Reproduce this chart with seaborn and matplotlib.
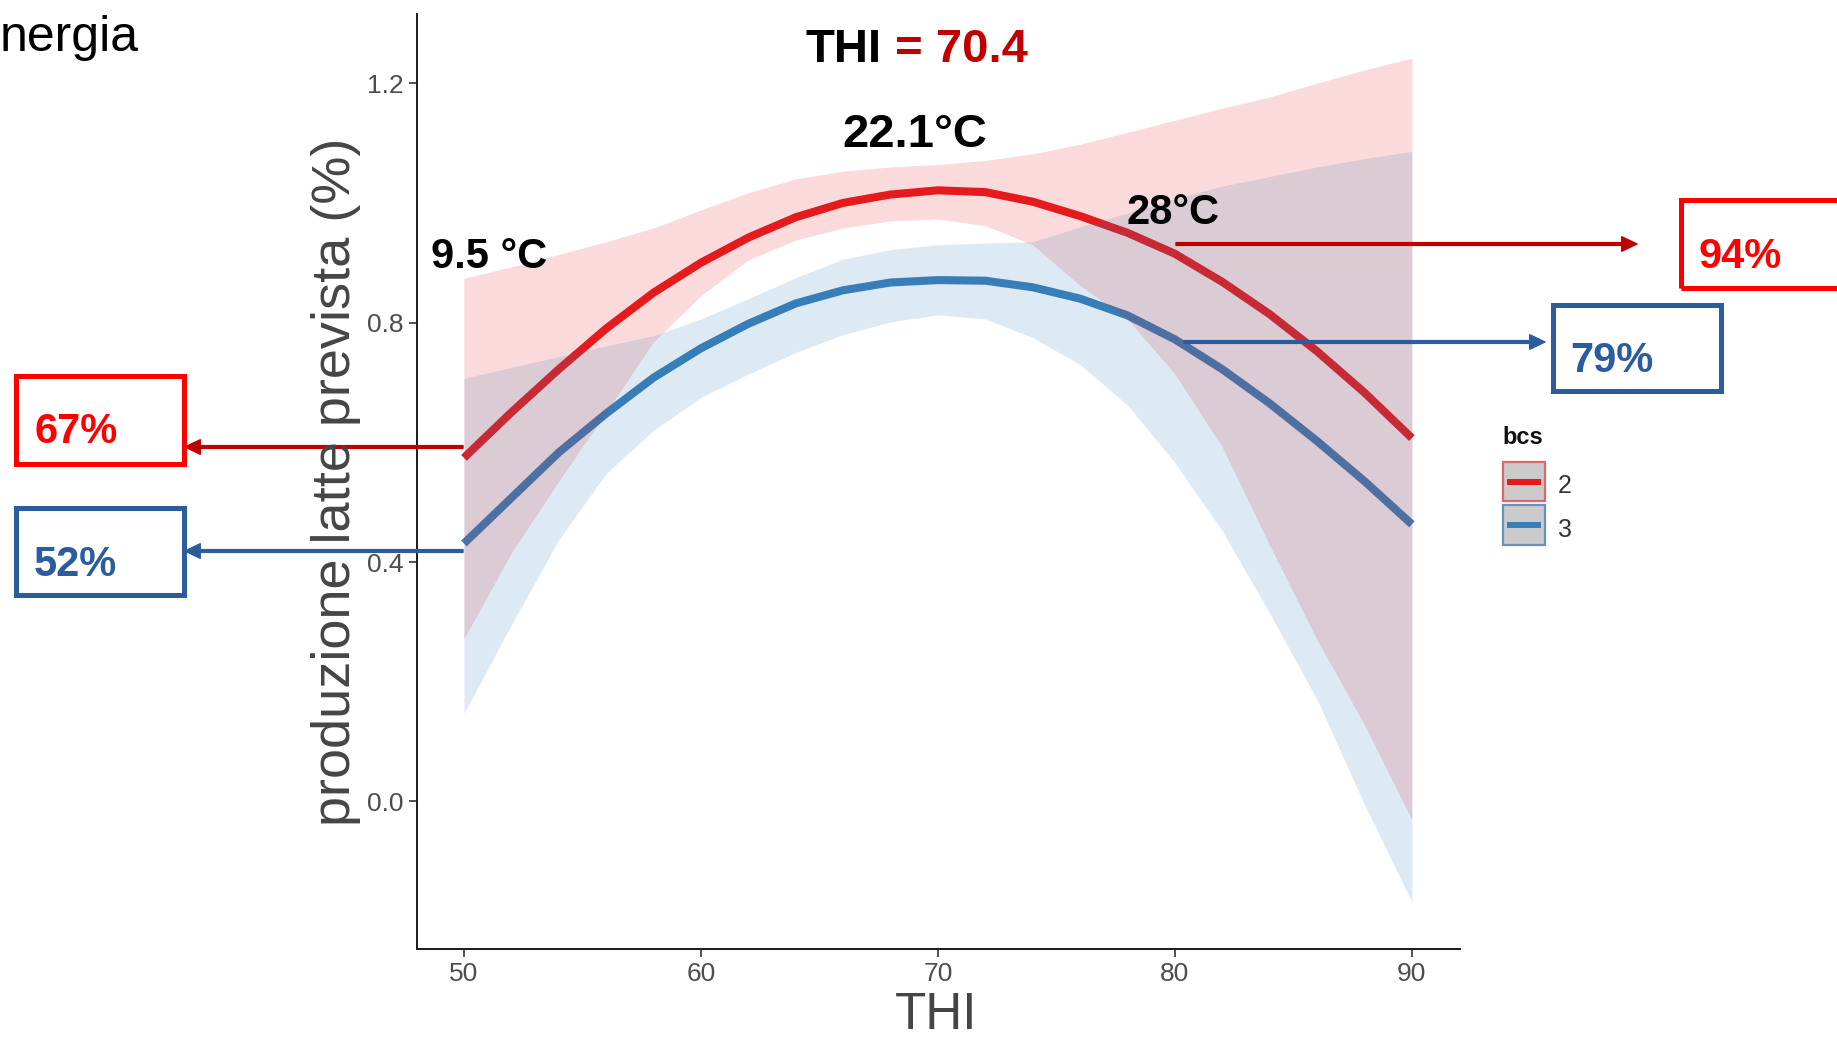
import matplotlib
matplotlib.use("Agg")
import matplotlib.pyplot as plt
import seaborn as sns
import pandas as pd
from matplotlib.patches import Rectangle
from matplotlib.lines import Line2D

# ---------------- data ----------------
thi = [50, 52, 54, 56, 58, 60, 62, 64, 66, 68, 70, 72, 74, 76, 78, 80, 82, 84, 86, 88, 90]

bcs2_fit = [0.574, 0.650, 0.722, 0.790, 0.850, 0.900, 0.942, 0.976, 1.000, 1.014, 1.021,
            1.018, 1.002, 0.978, 0.950, 0.915, 0.868, 0.814, 0.752, 0.683, 0.607]
bcs2_lo = [0.272, 0.415, 0.535, 0.650, 0.768, 0.845, 0.905, 0.938, 0.958, 0.970, 0.973,
           0.962, 0.930, 0.862, 0.806, 0.714, 0.592, 0.428, 0.270, 0.128, -0.031]
bcs2_hi = [0.874, 0.893, 0.914, 0.935, 0.958, 0.988, 1.017, 1.040, 1.053, 1.060, 1.064,
           1.071, 1.082, 1.098, 1.118, 1.138, 1.158, 1.177, 1.200, 1.222, 1.242]

bcs3_fit = [0.431, 0.507, 0.583, 0.648, 0.708, 0.757, 0.798, 0.832, 0.854, 0.867, 0.871,
            0.870, 0.859, 0.840, 0.812, 0.772, 0.722, 0.665, 0.602, 0.535, 0.463]
bcs3_lo = [0.147, 0.295, 0.437, 0.548, 0.620, 0.675, 0.714, 0.750, 0.780, 0.801, 0.813,
           0.806, 0.775, 0.730, 0.662, 0.566, 0.452, 0.314, 0.170, -0.005, -0.168]
bcs3_hi = [0.707, 0.725, 0.743, 0.761, 0.778, 0.806, 0.840, 0.875, 0.906, 0.922, 0.930,
           0.933, 0.935, 0.960, 0.983, 1.007, 1.028, 1.044, 1.060, 1.074, 1.086]

bcs_levels = ["2", "3"]
x_ticks = [50, 60, 70, 80, 90]
y_ticks = [0.0, 0.4, 0.8, 1.2]
y_tick_labels = ["0.0", "0.4", "0.8", "1.2"]

# ---------------- style ----------------
sns.set_style("ticks")
plt.rcParams["font.family"] = ["Liberation Sans", "DejaVu Sans"]

RED = "#E41A1C"
BLUE = "#377EB8"
DARK_RED = "#C00000"
BOX_RED = "#FF0000"
BOX_BLUE = "#2A5C9E"

W, H = 1837, 1041
fig = plt.figure(figsize=(W / 100, H / 100), dpi=100)
fig.patch.set_facecolor("white")


def fx(x):
    return x / W


def fy(y):
    return 1 - y / H


ax = fig.add_axes([fx(417), fy(949), (1460 - 417) / W, (949 - 14) / H])
ax.set_facecolor("white")

n = len(thi)
df = pd.DataFrame({
    "THI": thi + thi,
    "pred": bcs2_fit + bcs3_fit,
    "bcs": [bcs_levels[0]] * n + [bcs_levels[1]] * n,
})

sns.lineplot(data=df, x="THI", y="pred", hue="bcs",
             palette={bcs_levels[0]: RED, bcs_levels[1]: BLUE},
             estimator=None, lw=5.8, legend=False, ax=ax, zorder=2,
             solid_capstyle="butt", solid_joinstyle="round")

ax.fill_between(thi, bcs2_lo, bcs2_hi, color=RED, alpha=0.16, lw=0, zorder=3)
ax.fill_between(thi, bcs3_lo, bcs3_hi, color=BLUE, alpha=0.16, lw=0, zorder=3)

ax.set_xlim(48.02, 92.03)
ax.set_ylim(-0.2466, 1.3156)
ax.set_xticks(x_ticks)
ax.set_yticks(y_ticks)
ax.set_yticklabels(y_tick_labels)
ax.set_xlabel("")
ax.set_ylabel("")

for s in ["top", "right"]:
    ax.spines[s].set_visible(False)
for s in ["left", "bottom"]:
    ax.spines[s].set_color("#1a1a1a")
    ax.spines[s].set_linewidth(1.4)

ax.tick_params(axis="both", direction="out", length=5.5, width=1.2, color="#333333",
               labelsize=19, labelcolor="#4D4D4D")
ax.tick_params(axis="y", pad=4)
ax.tick_params(axis="x", pad=3.6)

# axis titles
fig.text(fx(350), fy(482), "produzione latte prevista (%)", rotation=90,
         rotation_mode="anchor", ha="center", va="baseline",
         fontsize=39, color="#454545")
fig.text(fx(936), fy(1040), "THI", ha="center", va="bottom",
         fontsize=37, color="#454545")

# ---------------- annotations ----------------
fig.text(fx(0), fy(51), "nergia", ha="left", va="baseline", fontsize=36, color="black")

fig.text(fx(882), fy(62), "THI", ha="right", va="baseline", fontsize=34,
         fontweight="bold", color="black")
fig.text(fx(895), fy(62), "= 70.4", ha="left", va="baseline", fontsize=34,
         fontweight="bold", color=DARK_RED)

fig.text(fx(915), fy(147), "22.1°C", ha="center", va="baseline", fontsize=34,
         fontweight="bold", color="black")
fig.text(fx(431), fy(268), "9.5 °C", ha="left", va="baseline", fontsize=30,
         fontweight="bold", color="black")
fig.text(fx(1127), fy(224), "28°C", ha="left", va="baseline", fontsize=30,
         fontweight="bold", color="black")


def arrow(x0, y0, x1, y1, color):
    ax.annotate("", xy=(x1, H - y1), xytext=(x0, H - y0),
                xycoords="figure pixels", textcoords="figure pixels",
                arrowprops=dict(width=2.0, headwidth=10.5, headlength=11,
                                facecolor=color, edgecolor=color, shrink=0))


arrow(1176, 244, 1637, 244, DARK_RED)
arrow(1184, 342, 1545, 342, BOX_BLUE)
arrow(463, 447, 185, 447, DARK_RED)
arrow(463, 551, 185, 551, BOX_BLUE)


def box(x0, y0, x1, y1, color):
    fig.add_artist(Rectangle((fx(x0), fy(y1)), (x1 - x0) / W, (y1 - y0) / H,
                             transform=fig.transFigure, fill=False,
                             edgecolor=color, lw=3.6))


box(16, 376, 184, 464, BOX_RED)
box(16, 507.5, 184, 594.5, BOX_BLUE)
box(1680.5, 200.5, 1880, 287.5, BOX_RED)
box(1552.5, 304.5, 1720.5, 390.5, BOX_BLUE)

fig.text(fx(34), fy(443), "67%", ha="left", va="baseline", fontsize=30,
         fontweight="bold", color=BOX_RED)
fig.text(fx(34), fy(576), "52%", ha="left", va="baseline", fontsize=30,
         fontweight="bold", color=BOX_BLUE)
fig.text(fx(1698), fy(268), "94%", ha="left", va="baseline", fontsize=30,
         fontweight="bold", color=BOX_RED)
fig.text(fx(1570), fy(372), "79%", ha="left", va="baseline", fontsize=30,
         fontweight="bold", color=BOX_BLUE)

# ---------------- legend (drawn as keys) ----------------
fig.text(fx(1502), fy(444), "bcs", ha="left", va="baseline", fontsize=17,
         fontweight="bold", color="#111111")
keys = [(bcs_levels[0], 462, 501, RED, "#E06468"),
        (bcs_levels[1], 505, 545, BLUE, "#6A90BE")]
for lab, ky0, ky1, lc, ec in keys:
    fig.add_artist(Rectangle((fx(1503), fy(ky1)), 42 / W, (ky1 - ky0) / H,
                             transform=fig.transFigure, facecolor="#CBCBCB",
                             edgecolor=ec, lw=1.6))
    yc = (ky0 + ky1) / 2
    fig.add_artist(Line2D([fx(1507), fx(1541)], [fy(yc), fy(yc)],
                          transform=fig.transFigure, color=lc, lw=4.3,
                          solid_capstyle="butt"))
    fig.text(fx(1558), fy(ky1 - 8), lab, ha="left", va="baseline", fontsize=18,
             color="#333333")

fig.savefig("out.png", dpi=100, facecolor="white")
